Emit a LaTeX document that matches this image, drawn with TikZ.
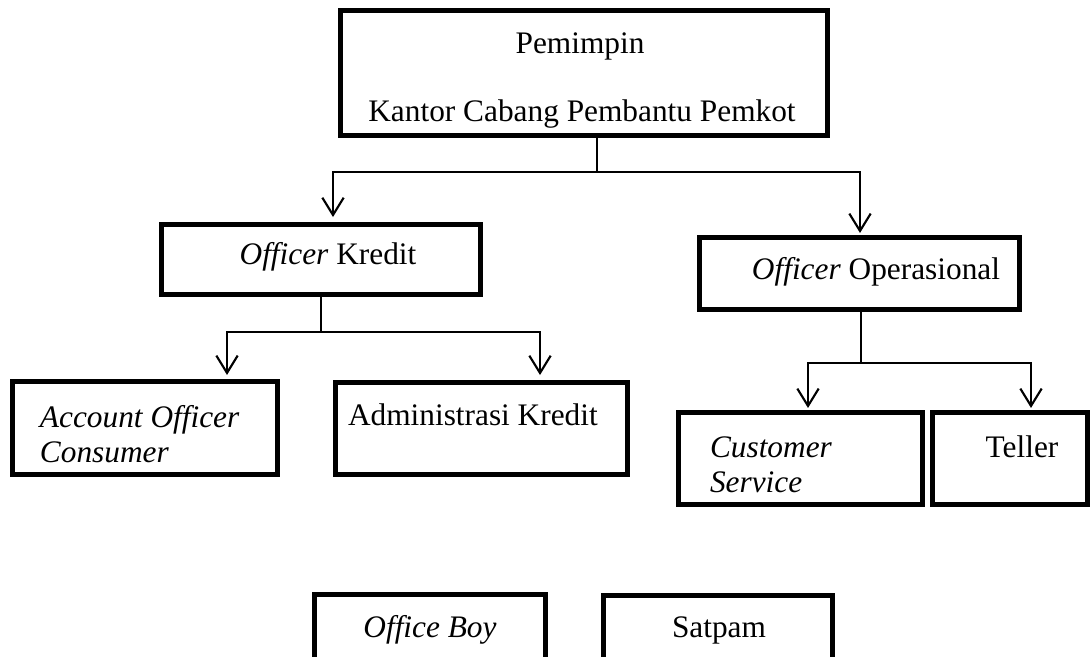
\documentclass[tikz,border=0pt]{standalone}
\usepackage{fontspec}
\setmainfont{Liberation Serif}
\usetikzlibrary{arrows.meta,fit}
\tikzset{
  boxnode/.style={draw, line width=3.75pt, inner sep=0pt, outer sep=0pt},
  txt/.style={inner sep=0pt, outer sep=0pt, font=\fontsize{23.5pt}{26.5pt}\selectfont},
  conn/.style={line width=1.6pt},
  arr/.style={conn, -{Straight Barb[length=13pt,width=16pt,line width=1.6pt]}},
}
\begin{document}
\begin{tikzpicture}[x=0.75pt, y=-0.75pt]
\useasboundingbox (0,0) rectangle (1090,657);
\clip (0,0) rectangle (1090,657);
% boxes
\node[boxnode, fit={(340.5,10.5) (827.5,135.5)}] (top) {};
\node[boxnode, fit={(161.5,224.5) (480.5,294.5)}] (kredit) {};
\node[boxnode, fit={(699.5,237.5) (1019.5,309.5)}] (oper) {};
\node[boxnode, fit={(12.5,381.5) (277.5,474.5)}] (acc) {};
\node[boxnode, fit={(335.5,382.5) (627.5,474.5)}] (adm) {};
\node[boxnode, fit={(678.5,412.5) (922.5,504.5)}] (cs) {};
\node[boxnode, fit={(932.5,412.5) (1087.5,504.5)}] (teller) {};
\node[boxnode, fit={(314.5,594.5) (545.5,700)}] (ob) {};
\node[boxnode, fit={(603.5,595.5) (832.5,700)}] (sat) {};
% texts
\node[txt, anchor=base] (t1) at (580,53) {Pemimpin};
\node[txt, anchor=base] (t2) at (582,121) {Kantor Cabang Pembantu Pemkot};
\node[txt, anchor=base] (t3) at (328,264) {\textit{Officer} Kredit};
\node[txt, anchor=base] (t4) at (876,279) {\textit{Officer} Operasional};
\node[txt, anchor=base west] (t5) at (40,427) {\textit{Account Officer}};
\node[txt, anchor=base west] (t6) at (40,462) {\textit{Consumer}};
\node[txt, anchor=base west] (t7) at (348,425) {Administrasi Kredit};
\node[txt, anchor=base west] (t8) at (710,457) {\textit{Customer}};
\node[txt, anchor=base west] (t9) at (710,492) {\textit{Service}};
\node[txt, anchor=base] (t10) at (1022,457) {Teller};
\node[txt, anchor=base] (t11) at (430,637) {\textit{Office Boy}};
\node[txt, anchor=base] (t12) at (719,637) {Satpam};
% junctions and branch columns
\coordinate (j1) at (597,172);
\coordinate (xk) at (333,0);
\coordinate (xo) at (860,0);
\coordinate (j2) at (321,332);
\coordinate (xa) at (227,0);
\coordinate (xd) at (540,0);
\coordinate (j3) at (861,363);
\coordinate (xc) at (808,0);
\coordinate (xt) at (1031,0);
% connectors
\draw[conn] (j1 |- top.south) -- (j1);
\draw[arr, shorten >=5.6pt] (j1) -| (xk |- kredit.north);
\draw[arr, shorten >=3.4pt] (j1) -| (xo |- oper.north);
\draw[conn] (j2 |- kredit.south) -- (j2);
\draw[arr, shorten >=4.9pt] (j2) -| (xa |- acc.north);
\draw[arr, shorten >=5.6pt] (j2) -| (xd |- adm.north);
\draw[conn] (j3 |- oper.south) -- (j3);
\draw[arr, shorten >=3.4pt] (j3) -| (xc |- cs.north);
\draw[arr, shorten >=3.4pt] (j3) -| (xt |- teller.north);
\end{tikzpicture}
\end{document}
